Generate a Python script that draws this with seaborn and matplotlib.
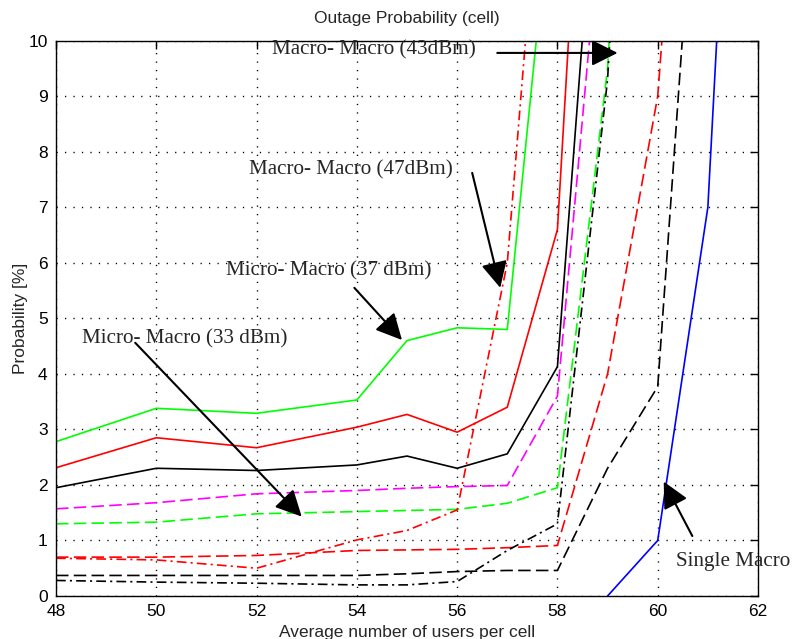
import matplotlib
matplotlib.use("Agg")
import matplotlib.pyplot as plt
import seaborn as sns

# ---------------- data ----------------
x_grn_solid = [48, 50, 52, 54, 55, 56, 57, 58]
y_grn_solid = [2.78, 3.38, 3.29, 3.53, 4.60, 4.83, 4.80, 13.8]

x_red_solid = [48, 50, 52, 54, 55, 56, 57, 58, 59]
y_red_solid = [2.31, 2.85, 2.67, 3.04, 3.27, 2.95, 3.40, 6.60, 22.0]

x_blk_solid = [48, 50, 52, 54, 55, 56, 57, 58, 59]
y_blk_solid = [1.95, 2.30, 2.26, 2.36, 2.52, 2.30, 2.56, 4.13, 16.0]

x_mag_dash = [48, 50, 52, 54, 55, 56, 57, 58, 59]
y_mag_dash = [1.57, 1.68, 1.84, 1.90, 1.94, 1.97, 1.99, 3.60, 13.6]

x_grn_dash = [48, 50, 52, 54, 55, 56, 57, 58, 59, 60]
y_grn_dash = [1.30, 1.33, 1.48, 1.52, 1.54, 1.56, 1.67, 1.95, 9.5, 25.0]

x_red_dash = [48, 50, 52, 54, 55, 56, 57, 58, 59, 60, 61]
y_red_dash = [0.70, 0.70, 0.73, 0.82, 0.83, 0.84, 0.87, 0.91, 4.0, 9.0, 21.0]

x_blk_dash = [48, 50, 52, 54, 55, 56, 57, 58, 59, 60, 61]
y_blk_dash = [0.37, 0.37, 0.37, 0.37, 0.40, 0.44, 0.46, 0.46, 2.30, 3.77, 16.5]

x_red_dashdot = [48, 50, 52, 54, 55, 56, 57, 58]
y_red_dashdot = [0.68, 0.65, 0.50, 1.01, 1.18, 1.55, 6.0, 17.0]

x_blk_dashdot = [48, 50, 52, 54, 55, 56, 57, 58, 59, 60]
y_blk_dashdot = [0.28, 0.25, 0.23, 0.20, 0.20, 0.26, 0.82, 1.30, 9.3, 25.0]

x_single = [59, 60, 61, 62]
y_single = [0.0, 1.0, 7.0, 24.0]

x_ticks = [48, 50, 52, 54, 56, 58, 60, 62]
y_ticks = [0, 1, 2, 3, 4, 5, 6, 7, 8, 9, 10]

title = "Outage Probability (cell)"
xlabel = "Average number of users per cell"
ylabel = "Probability [%]"

# annotation labels: (text, text position, arrow tail, arrow head)
ann_43 = ("Macro- Macro (43dBm)", (52.31, 9.84), (56.80, 9.78), (59.20, 9.78))
ann_47 = ("Macro- Macro (47dBm)", (51.85, 7.68), (56.30, 7.62), (56.86, 5.55))
ann_37 = ("Micro- Macro (37 dBm)", (51.39, 5.86), (53.95, 5.55), (54.90, 4.61))
ann_33 = ("Micro- Macro (33 dBm)", (48.52, 4.63), (49.58, 4.56), (52.90, 1.43))
ann_sm = ("Single Macro", (60.37, 0.63), (60.69, 1.08), (60.12, 2.06))

# ---------------- style ----------------
sns.set_style("white")
plt.rcParams["font.family"] = ["Liberation Sans", "DejaVu Sans"]
plt.rcParams["lines.scale_dashes"] = False

fig = plt.figure(figsize=(7.92, 6.39), dpi=100)
ax = fig.add_axes([56 / 792, 43 / 639, 702 / 792, 555.3 / 639])

DASH = (0, (9.0, 3.8))
DASHDOT = (0, (7.0, 3.0, 1.5, 3.0))
LW = 1.2

series = [
    (x_grn_solid, y_grn_solid, "#00ff00", "-"),
    (x_red_solid, y_red_solid, "#ff0000", "-"),
    (x_blk_solid, y_blk_solid, "#000000", "-"),
    (x_mag_dash, y_mag_dash, "#ff00ff", DASH),
    (x_grn_dash, y_grn_dash, "#00ff00", DASH),
    (x_red_dash, y_red_dash, "#ff0000", DASH),
    (x_blk_dash, y_blk_dash, "#000000", DASH),
    (x_red_dashdot, y_red_dashdot, "#ff0000", DASHDOT),
    (x_blk_dashdot, y_blk_dashdot, "#000000", DASHDOT),
    (x_single, y_single, "#0000ff", "-"),
]
for xs, ys, c, ls in series:
    sns.lineplot(x=xs, y=ys, ax=ax, color=c, linewidth=LW, linestyle=ls,
                 sort=False, estimator=None)

ax.set_xlim(48, 62)
ax.set_ylim(0, 10)
ax.set_xticks(x_ticks)
ax.set_yticks(y_ticks)
ax.tick_params(direction="in", length=6, width=1, top=True, right=True,
               labelsize=12.5, pad=6, colors="black")
ax.grid(True, color="black", linestyle=(0, (0.9, 5.2)), linewidth=1.0)
for sp in ax.spines.values():
    sp.set_visible(True)
    sp.set_color("black")
    sp.set_linewidth(1.0)

ax.set_title(title, fontsize=12.5, pad=13)
ax.set_xlabel(xlabel, fontsize=12.5, labelpad=4)
ax.set_ylabel(ylabel, fontsize=12.5, labelpad=0)

serif = ["Liberation Serif", "DejaVu Serif"]
for txt, tpos, tail, head in [ann_43, ann_47, ann_37, ann_33, ann_sm]:
    ax.text(tpos[0], tpos[1], txt, family=serif, fontsize=15.2, ha="left",
            va="center", clip_on=False, zorder=5)
    ax.annotate("", xy=head, xytext=tail,
                arrowprops=dict(arrowstyle="-|>,head_length=1.0,head_width=0.5",
                                mutation_scale=16, lw=1.5, color="black",
                                shrinkA=0, shrinkB=0),
                annotation_clip=False, zorder=6)

fig.savefig("out.png", dpi=100, facecolor="white")
